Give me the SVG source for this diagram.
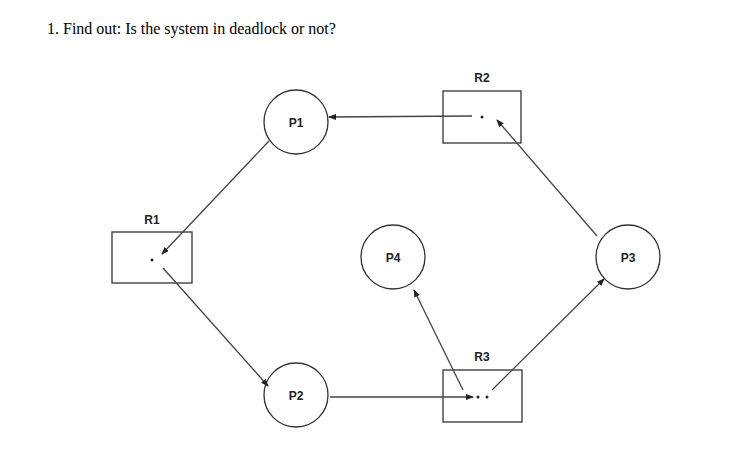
<svg xmlns="http://www.w3.org/2000/svg" width="747" height="476" viewBox="0 0 747 476">
<style>
.n{fill:#fff;stroke:#333;stroke-width:1.3}
.l{font-family:"Liberation Sans",Arial,sans-serif;font-size:12px;font-weight:bold;fill:#222;text-anchor:middle}
.e{stroke:#444;stroke-width:1.3;fill:none;marker-end:url(#a)}
</style>
<defs><marker id="a" markerWidth="8" markerHeight="6" refX="7" refY="3" orient="auto" markerUnits="userSpaceOnUse"><path d="M0,0L8,3L0,6z" fill="#222"/></marker></defs>
<rect width="747" height="476" fill="#fff"/>
<text x="47" y="34" font-family="Liberation Serif,serif" font-size="16" fill="#000">1.  Find out: Is the system in deadlock or not?</text>
<g id="R1"><rect class="n" x="112" y="232" width="80" height="51"/><circle cx="152" cy="260" r="1.5" fill="#222"/><text class="l" x="152" y="224">R1</text></g>
<g id="R2"><rect class="n" x="443" y="91" width="78" height="52"/><circle cx="482" cy="117" r="1.5" fill="#222"/><text class="l" x="482" y="82">R2</text></g>
<g id="R3"><rect class="n" x="443" y="370" width="79" height="52"/><circle cx="478" cy="397" r="1.5" fill="#222"/><circle cx="487" cy="397" r="1.5" fill="#222"/><text class="l" x="482" y="361">R3</text></g>
<g id="P1"><circle class="n" cx="296" cy="122" r="32"/><text class="l" x="296" y="127">P1</text></g>
<g id="P2"><circle class="n" cx="296" cy="395" r="32"/><text class="l" x="296" y="400">P2</text></g>
<g id="P3"><circle class="n" cx="628" cy="257" r="32"/><text class="l" x="628" y="262">P3</text></g>
<g id="P4"><circle class="n" cx="393" cy="257" r="32"/><text class="l" x="393" y="262">P4</text></g>
<g id="edges">
<line class="e" x1="472" y1="116" x2="329" y2="117"/>
<line class="e" x1="269" y1="141" x2="162" y2="254"/>
<line class="e" x1="163" y1="268" x2="268" y2="386"/>
<line class="e" x1="330" y1="397" x2="473" y2="397"/>
<line class="e" x1="463" y1="390" x2="414" y2="290"/>
<line class="e" x1="492" y1="390" x2="604" y2="279"/>
<line class="e" x1="597" y1="236" x2="497" y2="120"/>
</g>
</svg>
